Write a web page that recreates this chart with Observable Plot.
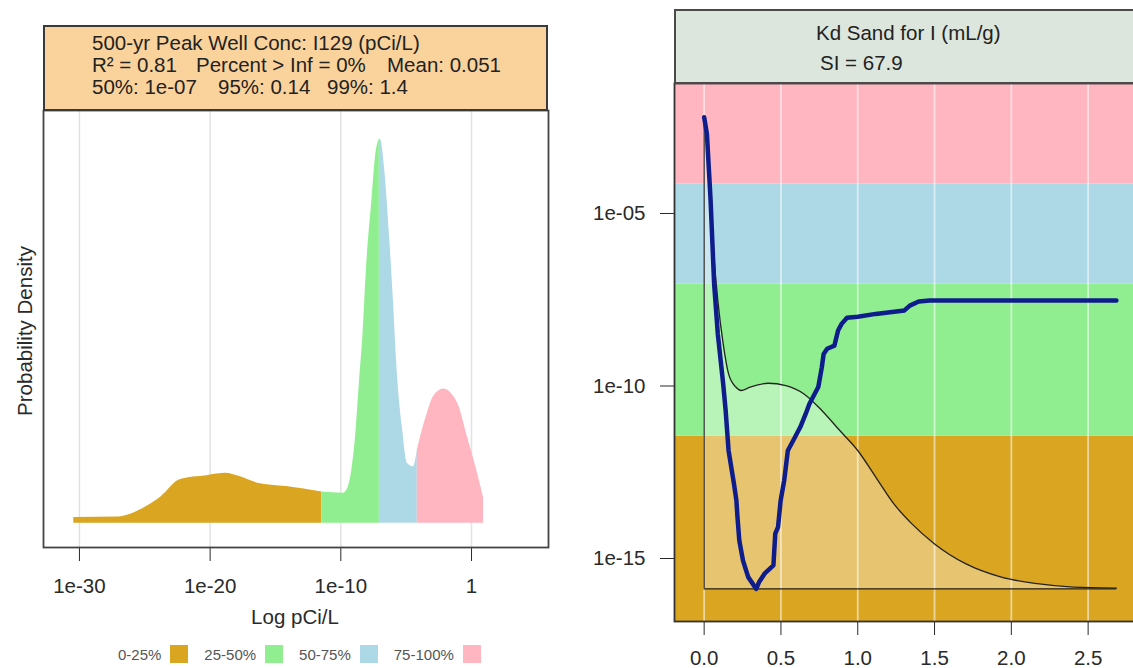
<!DOCTYPE html>
<html><head><meta charset="utf-8">
<script src="https://cdn.jsdelivr.net/npm/d3@7"></script>
<script src="https://cdn.jsdelivr.net/npm/@observablehq/plot@0.6"></script>
<style>
html,body{margin:0;padding:0;background:#fff;overflow:hidden;}
#root{position:relative;width:1133px;height:668px;overflow:hidden;font-family:"Liberation Sans",Arial,sans-serif;color:#222;}
.t{position:absolute;white-space:nowrap;font-size:20.5px;line-height:22px;}
.box{position:absolute;box-sizing:border-box;}
.svgwrap{position:absolute;}
.svgwrap svg{max-width:none !important;display:block;}
.legend{position:absolute;left:118px;top:645px;height:18px;display:flex;align-items:center;font-size:15px;color:#555;}
.legend .sw{width:18px;height:18px;margin-left:9px;margin-right:16px;}
</style></head>
<body><div id="root"></div>
<script>
// ---------- Left panel: 500-yr peak well concentration density ----------
const densityExp = [-30.43,-27.02,-26.2,-25.10,-23.74,-22.37,-21.83,-20.73,-18.82,-17.73,-16.37,-14.18,-11.45,-9.80,-9.53,-9.12,-8.85,-8.58,-8.30,-8.03,-7.62,-7.35,-7.05,-6.95,-6.66,-6.25,-5.98,-5.71,-5.29,-4.89,-4.44,-4.15,-3.90,-3.37,-2.91,-2.14,-1.07,-0.31,0.46,0.92];
const densityRel = [0.015,0.016,0.022,0.039,0.069,0.112,0.117,0.121,0.130,0.121,0.104,0.095,0.081,0.078,0.086,0.147,0.233,0.363,0.492,0.665,0.838,0.950,0.997,0.995,0.924,0.734,0.579,0.406,0.250,0.155,0.146,0.190,0.224,0.286,0.328,0.348,0.312,0.224,0.130,0.066];
const quartileBreaks = [-11.45, -7.05, -4.15];
const quartileLabels = ["0-25%","25-50%","50-75%","75-100%"];
const quartileColors = ["#DAA520","#90EE90","#ADD8E6","#FFB6C1"];
const leftTicks = [1e-30, 1e-20, 1e-10, 1];

// ---------- Right panel: Kd Sand for I ----------
const kdX      = [0,0.018,0.053,0.089,0.124,0.159,0.206,0.241,0.299,0.416,0.532,0.650,0.766,0.883,1.0,1.117,1.234,1.351,1.498,1.702,1.935,2.169,2.403,2.684];
const kdDensExp= [-2.19,-2.69,-5.59,-7.52,-8.78,-9.65,-10.03,-10.13,-10.03,-9.92,-9.99,-10.23,-10.71,-11.29,-11.87,-12.64,-13.41,-13.99,-14.57,-15.15,-15.54,-15.73,-15.83,-15.86];
const kdBaseExp = -15.88;
const medX   = [0.000,0.018,0.042,0.065,0.089,0.124,0.140,0.159,0.194,0.210,0.217,0.229,0.253,0.287,0.339,0.357,0.393,0.451,0.463,0.481,0.498,0.521,0.545,0.580,0.626,0.661,0.685,0.743,0.766,0.778,0.801,0.848,0.872,0.895,0.930,1.001,1.117,1.304,1.339,1.397,1.468,2.684];
const medExp = [-2.21,-2.69,-4.62,-7.04,-8.49,-9.94,-10.71,-11.87,-12.83,-13.32,-13.80,-14.48,-15.06,-15.54,-15.88,-15.69,-15.44,-15.20,-14.28,-14.09,-13.32,-12.74,-11.87,-11.58,-11.19,-10.81,-10.52,-10.03,-9.46,-9.07,-8.92,-8.83,-8.39,-8.20,-8.02,-7.99,-7.91,-7.81,-7.67,-7.55,-7.52,-7.52];
const kdTicks = [0, 0.5, 1, 1.5, 2, 2.5, 3];
const concTicks = [1e-5, 1e-10, 1e-15];

const fontStyle = {fontFamily:'"Liberation Sans", Arial, sans-serif', fontSize:"20.5px", color:"#2a2a2a", background:"transparent", overflow:"visible"};
const root = document.getElementById("root");
function addText(txt, left, top, extra) {
  const d = document.createElement("div");
  d.className = "t"; d.textContent = txt;
  d.style.left = left + "px"; d.style.top = top + "px";
  if (extra) Object.assign(d.style, extra);
  root.appendChild(d); return d;
}
function addBox(l, t, w, h, bg, border) {
  const d = document.createElement("div");
  d.className = "box";
  Object.assign(d.style, {left:l+"px", top:t+"px", width:w+"px", height:h+"px", background:bg, border:border});
  root.appendChild(d); return d;
}
function place(svg, l, t, w, h) {
  const d = document.createElement("div"); d.className = "svgwrap";
  Object.assign(d.style, {left:l+"px", top:t+"px", width:w+"px", height:h+"px"});
  d.appendChild(svg); root.appendChild(d);
}

// ----- left plot -----
const groupOf = e => quartileBreaks.filter(b => e > b).length;
const segs = [];
densityExp.forEach((e, i) => {
  segs.push({x: 10 ** e, y: densityRel[i], g: quartileLabels[groupOf(e)]});
  const bi = quartileBreaks.indexOf(e);
  if (bi >= 0) segs.push({x: 10 ** e, y: densityRel[i], g: quartileLabels[bi + 1]});
});

const left = Plot.plot({
  width: 560, height: 521, marginLeft: 43, marginRight: 12, marginTop: 1, marginBottom: 83,
  style: fontStyle,
  x: {type: "log", domain: [10 ** -32.75, 10 ** 5.89], ticks: leftTicks,
      tickFormat: d => d === 1 ? "1" : "1e" + Math.round(Math.log10(d)),
      tickSize: 14, tickPadding: 17, label: null},
  y: {domain: [-0.063, 1.071], axis: null},
  color: {domain: quartileLabels, range: quartileColors},
  marks: [
    Plot.ruleX(leftTicks, {stroke: "#e2e2e2", strokeWidth: 1.5}),
    Plot.areaY(segs, {x: "x", y1: 0, y2: "y", z: "g", fill: "g", curve: "monotone-x"}),
    Plot.frame({stroke: "#444", strokeWidth: 1.8})
  ]
});
place(left, 0, 109, 560, 521);

addBox(43, 25, 505, 86, "#FAD39C", "2px solid #3a3a3a");
addText("500-yr Peak Well Conc: I129 (pCi/L)", 92, 32);
addText("R\u00B2 = 0.81", 92, 54);
addText("Percent > Inf = 0%", 196, 54);
addText("Mean: 0.051", 387, 54);
addText("50%: 1e-07", 92, 76);
addText("95%: 0.14", 218, 76);
addText("99%: 1.4", 327, 76);
addText("Probability Density", 25, 331, {transform: "translate(-50%,-50%) rotate(-90deg)", color: "#2a2a2a"});
addText("Log pCi/L", 295, 617, {transform: "translate(-50%,-50%)", color: "#2a2a2a"});

const lg = document.createElement("div"); lg.className = "legend";
quartileLabels.forEach((lab, i) => {
  const s = document.createElement("span"); s.textContent = lab; lg.appendChild(s);
  const sw = document.createElement("span"); sw.className = "sw"; sw.style.background = quartileColors[i]; lg.appendChild(sw);
});
root.appendChild(lg);

// ----- right plot -----
const yLo = 10 ** -16.826, yHi = 10 ** -1.232;
const bandEdges = [yLo, ...quartileBreaks.map(b => 10 ** b), yHi];
const bands = quartileColors.map((c, i) => ({lo: bandEdges[i], hi: bandEdges[i + 1], color: c}));
const kdCurve = kdX.map((x, i) => ({x, y: 10 ** kdDensExp[i]}));
const medCurve = medX.map((x, i) => ({x, y: 10 ** medExp[i]}));
const kdBase = 10 ** kdBaseExp;
const xt = kdTicks.filter(t => t <= 2.88);

const right = Plot.plot({
  width: 586, height: 585, marginLeft: 100, marginRight: 14, marginTop: 0, marginBottom: 47,
  style: fontStyle,
  x: {domain: [-0.193, 2.88], ticks: xt, tickFormat: d3.format(".1f"),
      tickSize: 14, tickPadding: 14.5, label: null},
  y: {type: "log", domain: [yLo, yHi], ticks: concTicks,
      tickFormat: d => "1e-" + String(-Math.round(Math.log10(d))).padStart(2, "0"),
      tickSize: 14, tickPadding: 15, label: null},
  color: {type: "identity"},
  marks: [
    Plot.rect(bands, {y1: "lo", y2: "hi", fill: "color"}),
    Plot.areaY(kdCurve, {x: "x", y1: kdBase, y2: "y", fill: "white", fillOpacity: 0.36, curve: "monotone-x"}),
    Plot.ruleX(xt, {stroke: "white", strokeOpacity: 0.55, strokeWidth: 1.8}),
    Plot.ruleX([kdX[0]], {y1: kdBase, y2: kdCurve[0].y, stroke: "#222", strokeWidth: 1.2}),
    Plot.ruleY([kdBase], {x1: kdX[0], x2: kdX[kdX.length - 1], stroke: "#222", strokeWidth: 1.2}),
    Plot.line(kdCurve, {x: "x", y: "y", stroke: "#222", strokeWidth: 1.3, curve: "monotone-x"}),
    Plot.line(medCurve, {x: "x", y: "y", stroke: "#0f1d8c", strokeWidth: 4.5, strokeLinejoin: "round", strokeLinecap: "round"}),
    Plot.frame({stroke: "#333", strokeWidth: 1.8})
  ]
});
place(right, 574, 83, 586, 585);

addBox(674, 9, 472, 75, "#DCE6DD", "2px solid #4a4a4a");
addText("Kd Sand for I (mL/g)", 816, 22);
addText("SI = 67.9", 820, 52);
</script>
</body></html>
